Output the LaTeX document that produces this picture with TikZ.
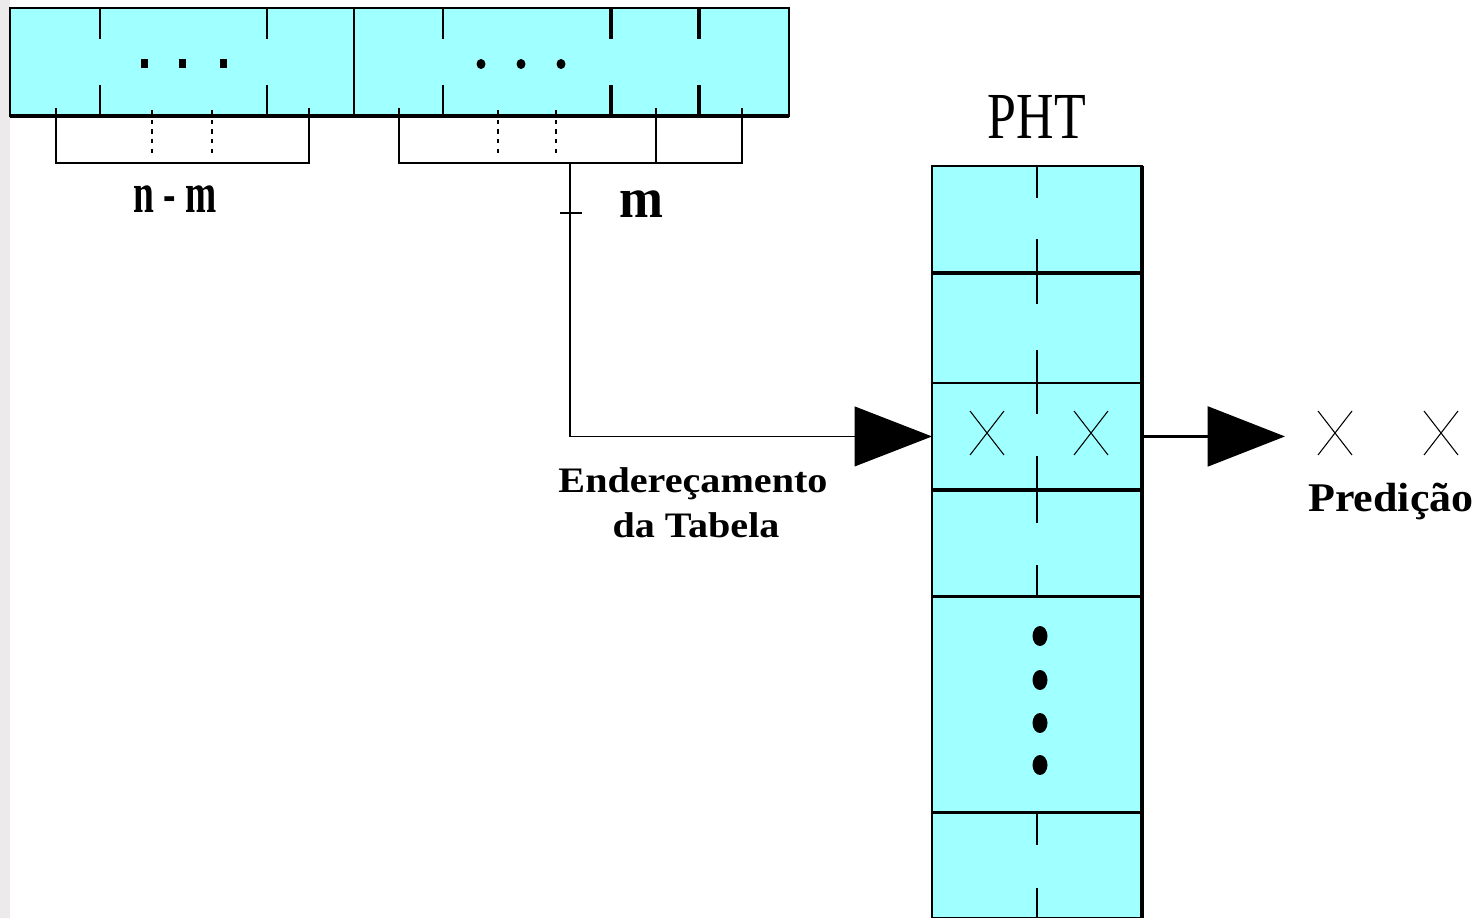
\documentclass[tikz,border=0pt]{standalone}
\usepackage{fontspec}
\setmainfont{Liberation Serif}
\usetikzlibrary{arrows.meta, positioning}
\definecolor{regcyan}{RGB}{160,255,255}
\definecolor{edgegray}{RGB}{236,234,234}

\begin{document}
\begin{tikzpicture}[
    x=0.02cm, y=-0.02cm,
    row/.style={rectangle, draw, fill=regcyan, line width=0.9pt, inner sep=0pt, outer sep=0pt, minimum width=4.2cm, minimum height=#1},
    tick/.style={line width=0.9pt},
    heavy/.style={line width=1.8pt},
    dottick/.style={line width=0.9pt, dash pattern=on 2.5pt off 3pt},
    bigarrow/.style={-{Triangle[length=44pt, width=34pt]}},
    lbl/.style={inner sep=0pt, anchor=base, font=\bfseries}
]
    \useasboundingbox (0,0) rectangle (1481,918);
    \fill[edgegray] (0,0) rectangle (10,918);

    % history register
    \node [rectangle, draw, fill=regcyan, line width=1pt, inner sep=0pt, outer sep=0pt, minimum width=15.58cm, minimum height=2.16cm, anchor=north west] (reg) at (10,8) {};
    \draw [line width=2.4pt] (reg.south west) -- (reg.south east);
    \draw [tick] (354,8) -- (354,116);
    \foreach \x in {100, 267, 443} {
        \draw [tick] (\x,8) -- (\x,39);
        \draw [tick] (\x,85) -- (\x,115);
    }
    \foreach \x in {611, 699} {
        \draw [heavy] (\x,8) -- (\x,39);
        \draw [heavy] (\x,85) -- (\x,115);
    }
    \foreach \x in {144, 182, 223}
        \fill (\x-3.5,59) rectangle (\x+3.5,68);
    \foreach \x in {481, 521, 561}
        \fill (\x,64) ellipse (4.5 and 5);

    % brackets
    \draw [tick] (56,108) -- (56,163) -- (309,163) -- (309,108);
    \draw [tick] (399,108) -- (399,163) -- (742,163) -- (742,108);
    \draw [tick] (656,108) -- (656,163);
    \foreach \x in {152, 212, 498, 556}
        \draw [dottick] (\x,110) -- (\x,155);
    \coordinate (stem) at (570,163);
    \draw [line width=0.7pt] (560,213) -- (582,213);

    \node [lbl, font=\bfseries\fontsize{32.3}{34}\selectfont] (nm) at (175,213) {\scalebox{0.66}[1]{n - m}};
    \node [lbl, font=\bfseries\fontsize{32.3}{34}\selectfont] (m) at (641,218) {\scalebox{0.93}[1]{m}};

    % pattern history table
    \node [row=2.14cm, anchor=north] (r1) at (1037,166) {};
    \node [row=2.2cm, below=0pt of r1] (r2) {};
    \node [row=2.14cm, below=0pt of r2] (r3) {};
    \node [row=2.14cm, below=0pt of r3] (r4) {};
    \node [row=4.32cm, below=0pt of r4] (r5) {};
    \node [row=2.1cm, below=0pt of r5] (r6) {};

    \draw [heavy] (r1.north east) -- (r6.south east);
    \foreach \r in {r1, r3, r4, r5}
        \draw [heavy] (\r.south west) -- (\r.south east);
    \foreach \a/\b in {166/198, 239/304, 350/414, 456/523, 565/597, 813/845, 888/918}
        \draw [tick] (1037,\a) -- (1037,\b);
    \foreach \y in {636, 680, 723, 765}
        \fill (1040,\y) ellipse (7.5 and 10);

    \node [inner sep=0pt, anchor=base, font=\fontsize{37.4}{40}\selectfont] (pht) at (1037,139) {\scalebox{0.79}[1]{PHT}};

    % address and prediction
    \draw [bigarrow, line width=0.7pt] (stem) |- (r3.west);
    \node [lbl, font=\bfseries\fontsize{20.4}{22}\selectfont] (addr) at (693,493) {\scalebox{1.12}[1]{Endereçamento}};
    \node [lbl, font=\bfseries\fontsize{20.4}{22}\selectfont] (tab) at (696,538) {\scalebox{1.12}[1]{da Tabela}};

    \path (r3.east) -- ++(143,0) coordinate (pred);
    \draw [bigarrow, line width=1.7pt] (r3.east) -- (pred);
    \foreach \x in {987, 1091, 1335, 1441}
        \draw [line width=0.6pt] (\x-17,411) -- (\x+17,455) (\x-17,455) -- (\x+17,411);
    \node [lbl, font=\bfseries\fontsize{23.2}{25}\selectfont] (predlbl) at (1391,512) {\scalebox{1.08}[1]{Predição}};
\end{tikzpicture}
\end{document}
